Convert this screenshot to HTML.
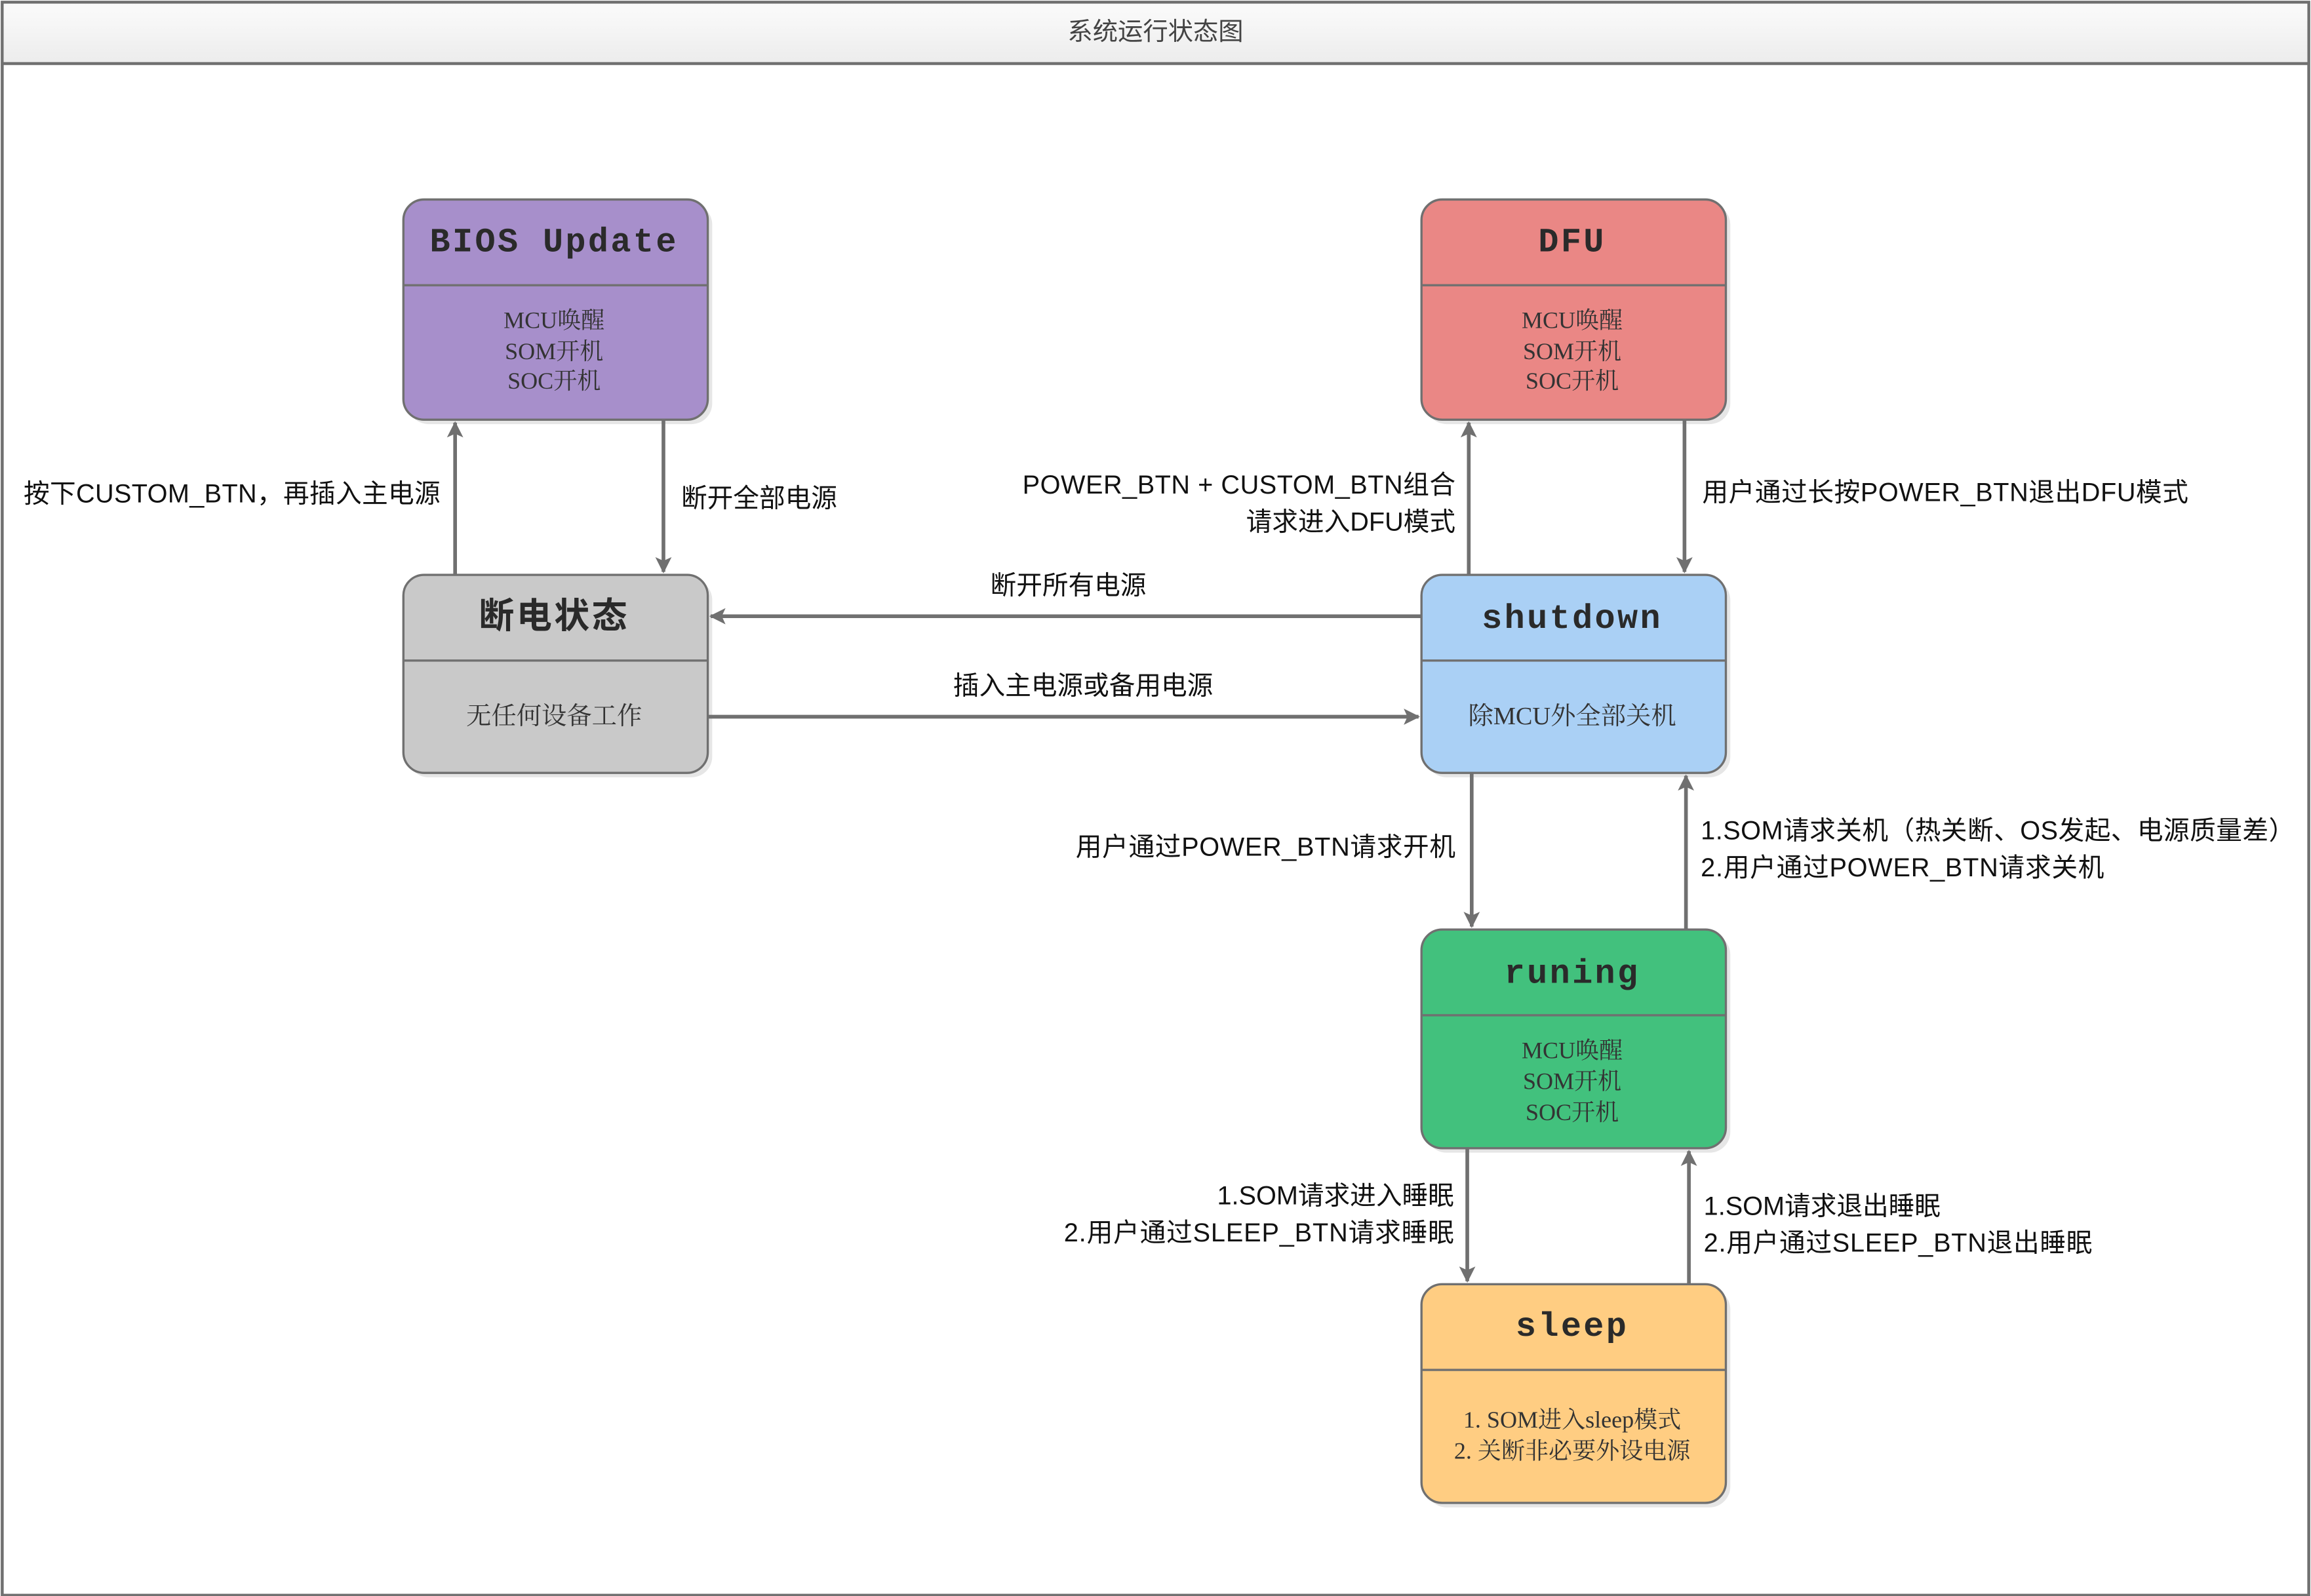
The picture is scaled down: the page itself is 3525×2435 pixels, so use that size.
<!DOCTYPE html>
<html><head><meta charset="utf-8"><style>
html,body{margin:0;padding:0;background:#fff}
svg{display:block}
.t{font-family:"Liberation Mono","Noto Serif CJK SC",monospace;font-weight:bold;font-size:23px;fill:#2a2a2a;text-anchor:middle;letter-spacing:1.5px}
.b{font-family:"Liberation Serif","Noto Serif CJK SC",serif;font-size:16px;fill:#333;text-anchor:middle}
.l{font-family:"Liberation Sans","Noto Sans CJK SC",sans-serif;font-size:17.6px;fill:#111}
.e{stroke:#707070;stroke-width:2.5;fill:none}
</style></head><body>
<svg width="3525" height="2435" viewBox="0 0 1564 1080" preserveAspectRatio="none" xmlns="http://www.w3.org/2000/svg">
<defs>
<linearGradient id="hg" x1="0" y1="0" x2="0" y2="1"><stop offset="0" stop-color="#fbfbfb"/><stop offset="1" stop-color="#ececec"/></linearGradient>
<marker id="a" markerWidth="12" markerHeight="12" refX="10" refY="6" orient="auto" markerUnits="userSpaceOnUse"><path d="M0,0.5 L11,6 L0,11.5 L2.5,6 Z" fill="#707070"/></marker>
</defs>
<rect x="1.5" y="1.5" width="1561" height="1078" fill="#fff" stroke="#707070" stroke-width="2"/>
<rect x="2.5" y="2.5" width="1559" height="40" fill="url(#hg)"/>
<line x1="1" y1="43" x2="1563" y2="43" stroke="#707070" stroke-width="2"/>
<text x="782" y="27" style="font-family:'Liberation Sans','Noto Sans CJK SC',sans-serif;font-size:17px;fill:#444;text-anchor:middle">系统运行状态图</text>

<g stroke="#707070" stroke-width="1.5">
<rect x="276" y="138" width="206" height="149" rx="14" fill="#e6e6e6" stroke="none"/>
<rect x="273" y="135" width="206" height="149" rx="14" fill="#a78fcb"/>
<line x1="273" y1="193" x2="479" y2="193"/>
<rect x="965" y="138" width="206" height="149" rx="14" fill="#e6e6e6" stroke="none"/>
<rect x="962" y="135" width="206" height="149" rx="14" fill="#ea8785"/>
<line x1="962" y1="193" x2="1168" y2="193"/>
<rect x="276" y="392" width="206" height="134" rx="14" fill="#e6e6e6" stroke="none"/>
<rect x="273" y="389" width="206" height="134" rx="14" fill="#c9c9c9"/>
<line x1="273" y1="447" x2="479" y2="447"/>
<rect x="965" y="392" width="206" height="134" rx="14" fill="#e6e6e6" stroke="none"/>
<rect x="962" y="389" width="206" height="134" rx="14" fill="#aad0f5"/>
<line x1="962" y1="447" x2="1168" y2="447"/>
<rect x="965" y="632" width="206" height="148" rx="14" fill="#e6e6e6" stroke="none"/>
<rect x="962" y="629" width="206" height="148" rx="14" fill="#42c17d"/>
<line x1="962" y1="687" x2="1168" y2="687"/>
<rect x="965" y="872" width="206" height="148" rx="14" fill="#e6e6e6" stroke="none"/>
<rect x="962" y="869" width="206" height="148" rx="14" fill="#ffcd82"/>
<line x1="962" y1="927" x2="1168" y2="927"/>
</g>

<text class="t" x="375" y="170">BIOS Update</text>
<text class="b" x="375" y="222">MCU唤醒</text><text class="b" x="375" y="243">SOM开机</text><text class="b" x="375" y="263">SOC开机</text>
<text class="t" x="1064" y="170">DFU</text>
<text class="b" x="1064" y="222">MCU唤醒</text><text class="b" x="1064" y="243">SOM开机</text><text class="b" x="1064" y="263">SOC开机</text>
<text class="t" x="375" y="425" style="font-family:'Liberation Sans','Noto Sans CJK SC',sans-serif;font-size:24px">断电状态</text>
<text class="b" x="375" y="490" style="font-size:17px">无任何设备工作</text>
<text class="t" x="1064" y="425">shutdown</text>
<text class="b" x="1064" y="490" style="font-size:17px">除MCU外全部关机</text>
<text class="t" x="1064" y="665">runing</text>
<text class="b" x="1064" y="716">MCU唤醒</text><text class="b" x="1064" y="737">SOM开机</text><text class="b" x="1064" y="758">SOC开机</text>
<text class="t" x="1064" y="904">sleep</text>
<text class="b" x="1064" y="966">1. SOM进入sleep模式</text><text class="b" x="1064" y="987">2. 关断非必要外设电源</text>

<line class="e" x1="308" y1="389" x2="308" y2="286" marker-end="url(#a)"/>
<line class="e" x1="449" y1="284" x2="449" y2="387" marker-end="url(#a)"/>
<line class="e" x1="994" y1="389" x2="994" y2="286" marker-end="url(#a)"/>
<line class="e" x1="1140" y1="284" x2="1140" y2="387" marker-end="url(#a)"/>
<line class="e" x1="962" y1="417" x2="481" y2="417" marker-end="url(#a)"/>
<line class="e" x1="479" y1="485" x2="960" y2="485" marker-end="url(#a)"/>
<line class="e" x1="996" y1="523" x2="996" y2="627" marker-end="url(#a)"/>
<line class="e" x1="1141" y1="629" x2="1141" y2="525" marker-end="url(#a)"/>
<line class="e" x1="993" y1="777" x2="993" y2="867" marker-end="url(#a)"/>
<line class="e" x1="1143" y1="869" x2="1143" y2="779" marker-end="url(#a)"/>

<text class="l" x="298" y="340" text-anchor="end" textLength="282">按下CUSTOM_BTN，再插入主电源</text>
<text class="l" x="461" y="343">断开全部电源</text>
<text class="l" x="985" y="334" text-anchor="end" textLength="293">POWER_BTN + CUSTOM_BTN组合</text>
<text class="l" x="985" y="359" text-anchor="end">请求进入DFU模式</text>
<text class="l" x="1152" y="339" textLength="329">用户通过长按POWER_BTN退出DFU模式</text>
<text class="l" x="723" y="402" text-anchor="middle">断开所有电源</text>
<text class="l" x="733" y="470" text-anchor="middle">插入主电源或备用电源</text>
<text class="l" x="985" y="579" text-anchor="end" textLength="257">用户通过POWER_BTN请求开机</text>
<text class="l" x="1151" y="568" textLength="402">1.SOM请求关机（热关断、OS发起、电源质量差）</text>
<text class="l" x="1151" y="593" textLength="273">2.用户通过POWER_BTN请求关机</text>
<text class="l" x="984" y="815" text-anchor="end">1.SOM请求进入睡眠</text>
<text class="l" x="984" y="840" text-anchor="end" textLength="264">2.用户通过SLEEP_BTN请求睡眠</text>
<text class="l" x="1153" y="822">1.SOM请求退出睡眠</text>
<text class="l" x="1153" y="847" textLength="263">2.用户通过SLEEP_BTN退出睡眠</text>
</svg>
</body></html>
